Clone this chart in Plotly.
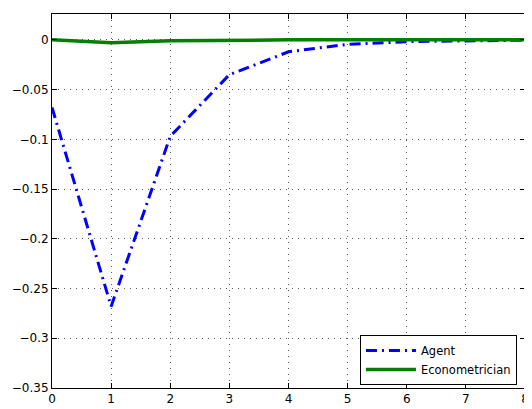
import plotly.graph_objects as go

periods = [0, 1, 2, 3, 4, 5, 6, 7, 8]
agent = [-0.068, -0.268, -0.097, -0.035, -0.012, -0.0045, -0.0018, -0.0007, -0.0003]
econometrician = [0.0, -0.003, -0.001, -0.0002, 0.0, 0.0, 0.0, 0.0, 0.0]
x_ticks = [0, 1, 2, 3, 4, 5, 6, 7, 8]
y_ticks = [-0.35, -0.3, -0.25, -0.2, -0.15, -0.1, -0.05, 0]
y_tick_text = ["\u22120.35", "\u22120.3", "\u22120.25", "\u22120.2", "\u22120.15", "\u22120.1", "\u22120.05", "0"]

fig = go.Figure()
fig.add_trace(go.Scatter(x=periods, y=agent, mode="lines", name="Agent",
                         line=dict(color="#0000ff", width=3, dash="11px,5px,2px,5px")))
fig.add_trace(go.Scatter(x=periods, y=econometrician, mode="lines", name="Econometrician",
                         line=dict(color="#008000", width=3.5)))

axis_common = dict(showline=True, linecolor="black", linewidth=1, mirror="ticks",
                   ticks="inside", ticklen=5, tickcolor="black", showgrid=True,
                   gridcolor="rgb(90,90,90)", griddash="1px,5px", gridwidth=1,
                   zeroline=False, tickfont=dict(family="DejaVu Sans", size=12, color="black"))

fig.update_xaxes(range=[0, 8], tickvals=x_ticks, ticklabeloverflow="allow", **axis_common)
fig.update_yaxes(range=[-0.35, 0.026], tickvals=y_ticks, ticktext=y_tick_text, **axis_common)

fig.update_layout(
    width=524, height=401,
    margin=dict(l=44, r=3, t=6, b=18),
    plot_bgcolor="white", paper_bgcolor="white",
    font=dict(family="DejaVu Sans", size=12, color="black"),
    legend=dict(x=0.983, y=0.008, xanchor="right", yanchor="bottom",
                bgcolor="white", bordercolor="black", borderwidth=1,
                font=dict(family="DejaVu Sans", size=11.5, color="black"),
                tracegroupgap=0, itemwidth=50),
    showlegend=True,
)

fig.write_html("out.html")
